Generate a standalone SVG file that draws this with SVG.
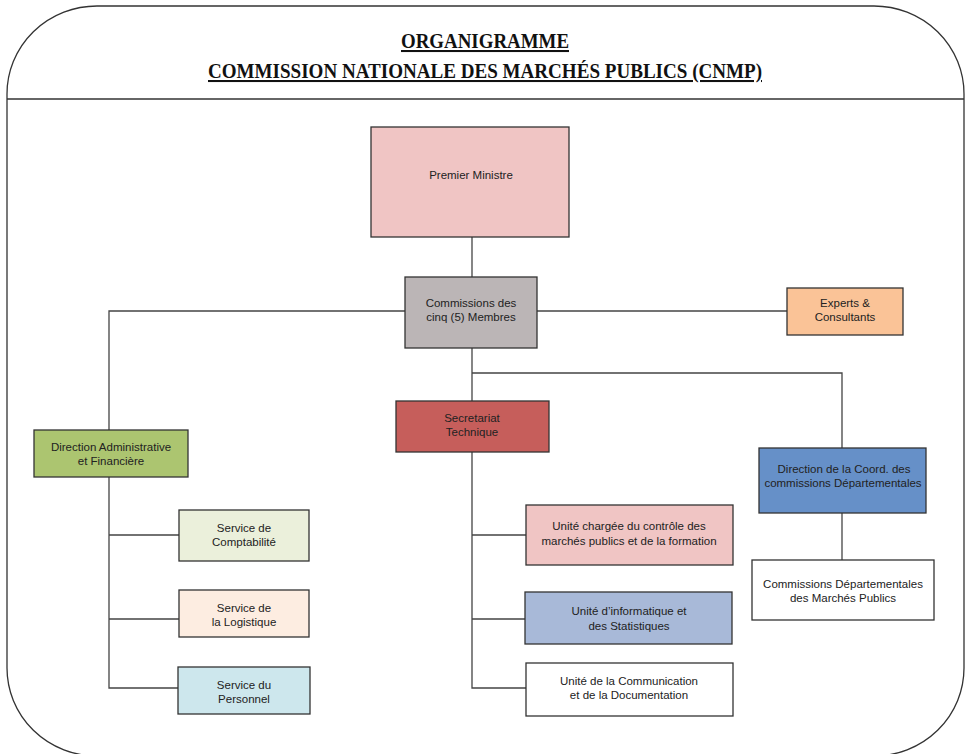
<svg xmlns="http://www.w3.org/2000/svg" width="966" height="754" viewBox="0 0 966 754">
<style>
.frame{fill:#fff;stroke:#333;stroke-width:1.3}
.box{stroke:#333;stroke-width:1.3}
.t{font-family:"Liberation Sans",Arial,sans-serif;font-size:11.5px;fill:#222;text-anchor:middle}
.title{font-family:"Liberation Serif","Times New Roman",serif;font-weight:bold;font-size:20.5px;fill:#111;text-anchor:middle;text-decoration:underline}
.c{fill:none;stroke:#444;stroke-width:1.3}
</style>
<rect class="frame" x="7" y="6" width="957" height="750" rx="90" ry="88"/>
<line x1="7" y1="99" x2="964" y2="99" stroke="#333" stroke-width="1.3"/>
<g id="title">
<text class="title" x="485" y="48" textLength="168" lengthAdjust="spacingAndGlyphs">ORGANIGRAMME</text>
<text class="title" x="485" y="78" textLength="554" lengthAdjust="spacingAndGlyphs">COMMISSION NATIONALE DES MARCHÉS PUBLICS (CNMP)</text>
</g>
<g id="connectors">
<path class="c" d="M472 237V277" stroke="#666" stroke-width="2"/>
<path class="c" d="M405 311H109V430"/>
<path class="c" d="M537 311H787"/>
<path class="c" d="M472 348V401"/>
<path class="c" d="M472 373H842V448"/>
<path class="c" d="M109 477V688H179M109 535H179M109 619H179"/>
<path class="c" d="M472 452V688H526M472 535H526M472 619H525"/>
<path class="c" d="M842 513V560"/>
</g>
<g id="premier-ministre">
<rect class="box" x="371" y="127" width="198" height="110" fill="#F0C5C4"/>
<text class="t" x="471" y="179">Premier Ministre</text>
</g>
<g id="commissions-membres">
<rect class="box" x="405" y="277" width="132" height="71" fill="#BBB5B6"/>
<text class="t" x="471" y="307">Commissions des</text>
<text class="t" x="471" y="321">cinq (5) Membres</text>
</g>
<g id="experts">
<rect class="box" x="787" y="288" width="116" height="47" fill="#FAC397"/>
<text class="t" x="845" y="307">Experts &amp;</text>
<text class="t" x="845" y="321">Consultants</text>
</g>
<g id="secretariat">
<rect class="box" x="396" y="401" width="153" height="51" fill="#C65E5B"/>
<text class="t" x="472" y="422">Secretariat</text>
<text class="t" x="472" y="436">Technique</text>
</g>
<g id="daf">
<rect class="box" x="34" y="430" width="154" height="47" fill="#ACC570"/>
<text class="t" x="111" y="451">Direction Administrative</text>
<text class="t" x="111" y="465">et Financière</text>
</g>
<g id="direction-coord">
<rect class="box" x="759" y="448" width="167" height="65" fill="#6690C8"/>
<text class="t" x="844" y="473">Direction de la Coord. des</text>
<text class="t" x="843" y="487">commissions Départementales</text>
</g>
<g id="comptabilite">
<rect class="box" x="179" y="510" width="130" height="51" fill="#EBF0DB"/>
<text class="t" x="244" y="532">Service de</text>
<text class="t" x="244" y="546">Comptabilité</text>
</g>
<g id="logistique">
<rect class="box" x="179" y="590" width="130" height="47" fill="#FDEDE1"/>
<text class="t" x="244" y="612">Service de</text>
<text class="t" x="244" y="626">la Logistique</text>
</g>
<g id="personnel">
<rect class="box" x="178" y="667" width="132" height="47" fill="#CDE7ED"/>
<text class="t" x="244" y="689">Service du</text>
<text class="t" x="244" y="703">Personnel</text>
</g>
<g id="unite-controle">
<rect class="box" x="526" y="505" width="207" height="60" fill="#F0C5C4"/>
<text class="t" x="629" y="530">Unité chargée du contrôle des</text>
<text class="t" x="629" y="545">marchés publics et de la formation</text>
</g>
<g id="unite-informatique">
<rect class="box" x="525" y="592" width="207" height="52" fill="#A8B9D8"/>
<text class="t" x="629" y="615">Unité d’informatique et</text>
<text class="t" x="629" y="630">des Statistiques</text>
</g>
<g id="unite-communication">
<rect class="box" x="526" y="663" width="207" height="53" fill="#FFFFFF"/>
<text class="t" x="629" y="685">Unité de la Communication</text>
<text class="t" x="629" y="699">et de la Documentation</text>
</g>
<g id="commissions-departementales">
<rect class="box" x="752" y="560" width="182" height="60" fill="#FFFFFF"/>
<text class="t" x="843" y="588">Commissions Départementales</text>
<text class="t" x="843" y="602">des Marchés Publics</text>
</g>
</svg>
